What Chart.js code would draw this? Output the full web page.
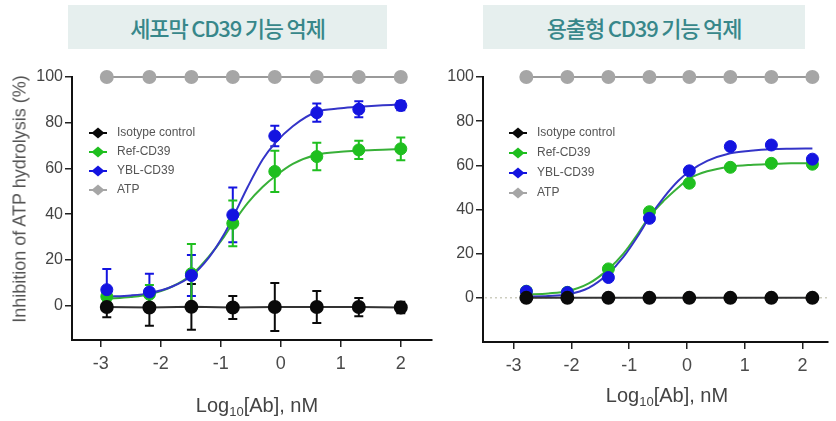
<!DOCTYPE html>
<html>
<head>
<meta charset="utf-8">
<script src="https://cdn.jsdelivr.net/npm/chart.js@4"></script>
<style>
  html, body { margin: 0; padding: 0; background: #fff; }
  #wrap { position: relative; width: 836px; height: 421px; overflow: hidden; font-family: "Liberation Sans", Arial, sans-serif; }
  canvas { position: absolute; top: 0; }
  .hdr {
    position: absolute; top: 5px; height: 44px; line-height: 44px;
    background: #e6efee; color: #37878a; text-align: center; font-weight: 500;
    font-family: "Noto Sans CJK KR", sans-serif; font-size: 22px; letter-spacing: -1.2px;
  }
  .xt { position: absolute; width: 200px; text-align: center; font-size: 20px; color: #444; }
  .xt sub { font-size: 13px; vertical-align: -4px; }
  .yt {
    position: absolute; left: 20px; top: 199px; width: 300px; text-align: center;
    font-size: 18px; color: #555; transform: translate(-50%, -50%) rotate(-90deg);
  }
</style>
</head>
<body>
<div id="wrap">
  <div class="hdr" style="left:68px;width:319px">세포막 CD39 기능 억제</div>
  <div class="hdr" style="left:483px;width:322px">용출형 CD39 기능 억제</div>
  <canvas id="leftChart" width="440" height="421" style="left:0;width:440px;height:421px"></canvas>
  <canvas id="rightChart" width="416" height="421" style="left:420px;width:416px;height:421px"></canvas>
  <div class="xt" style="left:157px;top:394px">Log<sub>10</sub>[Ab], nM</div>
  <div class="xt" style="left:567px;top:384px">Log<sub>10</sub>[Ab], nM</div>
  <div class="yt">Inhibition of ATP hydrolysis (%)</div>
</div>
<script>
// tick labels
const xTicks = [-3, -2, -1, 0, 1, 2]
const yTicks = [0, 20, 40, 60, 80, 100]
const legendLabels = ['Isotype control', 'Ref-CD39', 'YBL-CD39', 'ATP']

// left panel: membrane CD39
const xLeft = [-2.9, -2.19, -1.49, -0.8, -0.1, 0.6, 1.3, 2.0]
const isoLeft = [-0.6, -0.8, -0.5, -0.8, -0.6, -0.6, -0.6, -0.8]
const isoLeftErr = [4.5, 8, 10, 5, 10.5, 7, 4, 2.5]
const refLeft = [4, 5, 14, 36, 58.7, 65.2, 68.1, 68.6]
const refLeftErr = [2, 4, 13, 10, 9, 6, 4, 5]
const yblLeft = [7, 6, 13.2, 39.7, 74.2, 84.4, 85.9, 87.5]
const yblLeftErr = [9, 8, 9, 12, 4.5, 4, 3.5, 2]
const atpLeft = [100, 100, 100, 100, 100, 100, 100, 100]
// fitted curves
const fitXLeft = [-2.9, -2.5, -2.19, -1.8, -1.49, -1.2, -0.95, -0.8, -0.55, -0.3, -0.1, 0.2, 0.6, 1.0, 1.3, 1.7, 2.0]
const refFitLeft = [3, 3.8, 5, 8.5, 13.5, 21.5, 30, 36, 45, 52, 56.5, 62, 66, 67.3, 67.8, 68.2, 68.5]
const yblFitLeft = [4, 4.5, 5.5, 8.5, 13, 21, 31, 38.5, 52, 64, 71, 78.5, 84.8, 86.3, 87, 87.7, 88]

// right panel: soluble CD39
const xRight = [-2.78, -2.07, -1.36, -0.65, 0.04, 0.75, 1.46, 2.17]
const isoRight = [0, 0, 0, 0, 0, 0, 0, 0]
const refRight = [3, 2.5, 13.1, 39, 51.9, 59.1, 60.9, 60.5]
const yblRight = [2.9, 2.4, 9.2, 36, 57.5, 68.5, 69.2, 62.8]
const atpRight = [100, 100, 100, 100, 100, 100, 100, 100]
const fitXRight = [-2.78, -2.4, -2.07, -1.7, -1.36, -1.1, -0.85, -0.65, -0.4, -0.15, 0.04, 0.35, 0.75, 1.1, 1.46, 1.8, 2.17]
const refFitRight = [1.5, 2, 3, 6.5, 13, 20, 29, 36.8, 44, 50, 54, 57.3, 59.4, 60.2, 60.6, 60.9, 61]
const yblFitRight = [0.5, 0.8, 1.5, 4.5, 11, 18.5, 28, 36.5, 45.5, 53, 57.2, 62, 65.5, 66.6, 67.3, 67.5, 67.6]

const BLACK = '#0a0a0a'
const GREEN = '#1fbf1f'
const BLUE = '#1414e0'
const GRAY = '#a6a6a6'

const pts = (xs, ys) => xs.map((x, i) => ({ x: x, y: ys[i] }))

// vertical error bars with caps, drawn through the scales
const errorBars = {
    id: 'errorBars',
    beforeDatasetsDraw(chart) {
        const ctx = chart.ctx
        const xs = chart.scales.x
        const ys = chart.scales.y
        chart.data.datasets.forEach(ds => {
            if (!ds.errors) return
            ctx.save()
            ctx.strokeStyle = ds.pointBorderColor
            ctx.lineWidth = 2
            ds.data.forEach((p, i) => {
                const e = ds.errors[i]
                const px = xs.getPixelForValue(p.x)
                const top = ys.getPixelForValue(p.y + e)
                const bot = ys.getPixelForValue(p.y - e)
                ctx.beginPath()
                ctx.moveTo(px, top); ctx.lineTo(px, bot)
                ctx.moveTo(px - 4.5, top); ctx.lineTo(px + 4.5, top)
                ctx.moveTo(px - 4.5, bot); ctx.lineTo(px + 4.5, bot)
                ctx.stroke()
            })
            ctx.restore()
        })
    },
}

// dotted zero line
const zeroLine = {
    id: 'zeroLine',
    beforeDatasetsDraw(chart, args, opts) {
        if (!opts.show) return
        const ctx = chart.ctx
        const y = chart.scales.y.getPixelForValue(0)
        ctx.save()
        ctx.strokeStyle = '#b5b5a0'
        ctx.lineWidth = 1
        ctx.setLineDash([2, 3])
        ctx.beginPath()
        ctx.moveTo(chart.chartArea.left + 2, y)
        ctx.lineTo(chart.chartArea.right, y)
        ctx.stroke()
        ctx.restore()
    },
}

// legend inside the plot area
const innerLegend = {
    id: 'innerLegend',
    afterDraw(chart, args, opts) {
        const ctx = chart.ctx
        const items = chart.data.datasets.filter(ds => legendLabels.includes(ds.label))
        items.sort((a, b) => legendLabels.indexOf(a.label) - legendLabels.indexOf(b.label))
        ctx.save()
        ctx.font = '12px "Liberation Sans", Arial, sans-serif'
        ctx.textBaseline = 'middle'
        items.forEach((ds, i) => {
            const mx = opts.x
            const my = opts.y + i * opts.step
            ctx.strokeStyle = ds.pointBackgroundColor
            ctx.lineWidth = 2
            ctx.beginPath()
            ctx.moveTo(mx - 9, my); ctx.lineTo(mx + 9, my)
            ctx.stroke()
            ctx.fillStyle = ds.pointBackgroundColor
            ctx.beginPath()
            ctx.moveTo(mx, my - 5.5); ctx.lineTo(mx + 6.5, my)
            ctx.lineTo(mx, my + 5.5); ctx.lineTo(mx - 6.5, my)
            ctx.closePath(); ctx.fill()
            ctx.fillStyle = '#555'
            ctx.fillText(ds.label, opts.x + 19, my)
        })
        ctx.restore()
    },
}

function pointSet(label, xs, ys, color, opts) {
    return Object.assign({
        label: label,
        data: pts(xs, ys),
        showLine: false,
        borderColor: color,
        backgroundColor: color,
        pointBackgroundColor: color,
        pointBorderColor: color,
        pointRadius: 6,
        pointHoverRadius: 6,
        clip: false,
    }, opts || {})
}

function fitSet(xs, ys, color) {
    return {
        label: '',
        data: pts(xs, ys),
        showLine: true,
        borderColor: color,
        borderWidth: 2,
        pointRadius: 0,
        cubicInterpolationMode: 'monotone',
        clip: false,
    }
}

function makeOptions(xMin, xMax, yMin, yAxisW, padBottom, padRight, legendPos, showZero) {
    return {
        responsive: false,
        animation: false,
        events: [],
        layout: { padding: { top: 77, left: 0, right: padRight, bottom: padBottom } },
        plugins: {
            legend: { display: false },
            tooltip: { enabled: false },
            innerLegend: legendPos,
            zeroLine: { show: showZero },
        },
        scales: {
            x: {
                type: 'linear',
                min: xMin,
                max: xMax,
                afterBuildTicks: s => { s.ticks = xTicks.map(v => ({ value: v })) },
                afterFit: s => { s.height = 40 },
                grid: { drawOnChartArea: false, drawTicks: true, tickLength: 7, color: '#222', lineWidth: 1.5 },
                border: { display: true, color: '#111', width: 2 },
                ticks: { color: '#4a4a4a', font: { size: 18, family: '"Liberation Sans", Arial' }, padding: 6, autoSkip: false, maxRotation: 0 },
            },
            y: {
                type: 'linear',
                min: yMin,
                max: 100,
                afterBuildTicks: s => { s.ticks = yTicks.map(v => ({ value: v })) },
                afterFit: s => { s.width = yAxisW },
                grid: { drawOnChartArea: false, drawTicks: true, tickLength: 7, color: '#222', lineWidth: 1.5 },
                border: { display: true, color: '#111', width: 2 },
                ticks: { color: '#444', font: { size: 16, family: '"Liberation Sans", Arial' }, padding: 2 },
            },
        },
    }
}

new Chart(document.querySelector('#leftChart').getContext('2d'), {
    type: 'line',
    data: {
        datasets: [
            pointSet('Isotype control', xLeft, isoLeft, BLACK, { showLine: true, borderColor: '#333', borderWidth: 2, errors: isoLeftErr }),
            pointSet('YBL-CD39', xLeft, yblLeft, BLUE, { errors: yblLeftErr }),
            pointSet('Ref-CD39', xLeft, refLeft, GREEN, { errors: refLeftErr }),
            fitSet(fitXLeft, yblFitLeft, '#3434c8'),
            fitSet(fitXLeft, refFitLeft, '#38b038'),
            pointSet('ATP', xLeft, atpLeft, GRAY, { showLine: true, borderColor: '#9a9a9a', borderWidth: 2 }),
        ],
    },
    options: makeOptions(-3.48, 2.52, -15, 72, 41, 7, { x: 98, y: 133, step: 19 }, false),
    plugins: [errorBars, zeroLine, innerLegend],
})

new Chart(document.querySelector('#rightChart').getContext('2d'), {
    type: 'line',
    data: {
        datasets: [
            pointSet('Isotype control', xRight, isoRight, BLACK, { showLine: true, borderColor: '#333', borderWidth: 2 }),
            pointSet('YBL-CD39', xRight, yblRight, BLUE),
            pointSet('Ref-CD39', xRight, refRight, GREEN),
            fitSet(fitXRight, yblFitRight, '#3434c8'),
            fitSet(fitXRight, refFitRight, '#38b038'),
            pointSet('ATP', xRight, atpRight, GRAY, { showLine: true, borderColor: '#9a9a9a', borderWidth: 2 }),
        ],
    },
    options: makeOptions(-3.53, 2.44, -20, 63, 39, 0, { x: 98, y: 133, step: 20 }, true),
    plugins: [errorBars, zeroLine, innerLegend],
})
</script>
</body>
</html>
